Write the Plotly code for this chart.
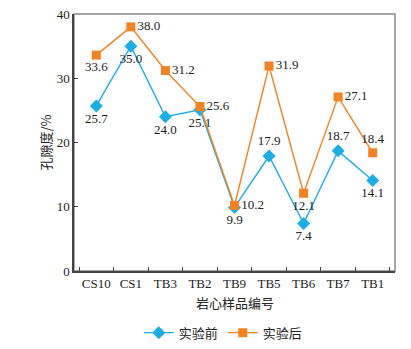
import plotly.graph_objects as go

categories = ["CS10", "CS1", "TB3", "TB2", "TB9", "TB5", "TB6", "TB7", "TB1"]
before = [25.7, 35.0, 24.0, 25.1, 9.9, 17.9, 7.4, 18.7, 14.1]
after = [33.6, 38.0, 31.2, 25.6, 10.2, 31.9, 12.1, 27.1, 18.4]
before_pos = ["bottom center", "bottom center", "bottom center", "bottom center", "bottom center",
              "top center", "bottom center", "top center", "bottom center"]
after_pos = ["bottom center", "middle right", "middle right", "middle right", "middle right",
             "middle right", "bottom center", "middle right", "top center"]

blue = "#19AEE8"
orange = "#F5821F"
serif = "Liberation Serif, Times New Roman, serif"
cjk = "Noto Sans CJK SC, sans-serif"

fig = go.Figure()
fig.add_trace(go.Scatter(
    x=categories, y=before, name="实验前", mode="lines+markers+text",
    line=dict(color=blue, width=1.4),
    marker=dict(symbol="diamond", size=10, color=blue),
    text=[f"{v:.1f}" for v in before], textposition=before_pos,
    textfont=dict(family=serif, size=13, color="#222222"),
    cliponaxis=False,
))
fig.add_trace(go.Scatter(
    x=categories, y=after, name="实验后", mode="lines+markers+text",
    line=dict(color=orange, width=1.4),
    marker=dict(symbol="square", size=9, color=orange),
    text=[f"{v:.1f}" for v in after], textposition=after_pos,
    textfont=dict(family=serif, size=13, color="#222222"),
    cliponaxis=False,
))

fig.update_layout(
    width=411, height=349,
    margin=dict(l=74, r=16, t=14, b=78, autoexpand=False),
    plot_bgcolor="white", paper_bgcolor="white",
    showlegend=True,
    legend=dict(orientation="h", x=0.465, xanchor="center", y=-0.24, yanchor="middle",
                font=dict(family=cjk, size=13, color="#222222"),
                itemwidth=30, traceorder="normal"),
    shapes=[dict(type="rect", xref="paper", yref="paper", x0=0, y0=0, x1=1, y1=1,
                 line=dict(color="#8a8a8a", width=1.5), layer="below")],
    annotations=[
        dict(text="孔隙度/%", xref="paper", yref="paper", x=0, y=0.5,
             xanchor="center", yanchor="middle", xshift=-29, textangle=-90,
             showarrow=False, font=dict(family=cjk, size=13, color="#222222")),
        dict(text="岩心样品编号", xref="paper", yref="paper", x=0.5, y=0,
             xanchor="center", yanchor="middle", yshift=-31,
             showarrow=False, font=dict(family=cjk, size=13, color="#222222")),
    ],
)
fig.update_xaxes(
    type="category", tickson="boundaries", ticks="inside", ticklen=4, tickangle=0,
    tickcolor="#444444", showline=True, linecolor="#444444", linewidth=1.5,
    showgrid=False, zeroline=False, automargin=False,
    tickfont=dict(family=serif, size=13, color="#222222"),
)
fig.update_yaxes(
    range=[0, 40], tickvals=[0, 10, 20, 30, 40], ticks="inside", ticklen=4,
    tickcolor="#444444", showline=True, linecolor="#444444", linewidth=1.5,
    showgrid=False, zeroline=False, automargin=False,
    tickfont=dict(family=serif, size=13, color="#222222"),
)

fig.write_html("out.html")
